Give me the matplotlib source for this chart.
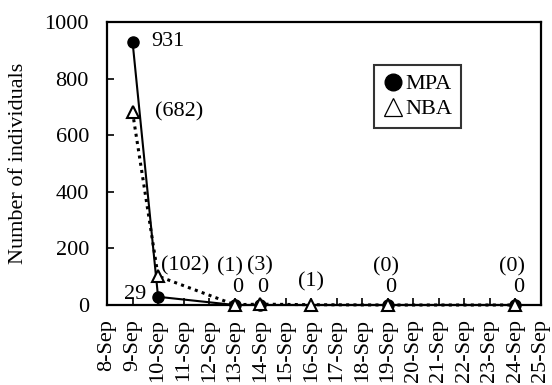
import matplotlib
matplotlib.use("Agg")
import matplotlib.pyplot as plt
from matplotlib.lines import Line2D

plt.rcParams['font.family'] = ['Liberation Serif', 'DejaVu Serif']

# ---- data ----
day_ticks = list(range(8, 26))
tick_labels = [f"{d}-Sep" for d in day_ticks]

mpa_days = [9, 10, 13, 14, 19, 24]
mpa_vals = [931, 29, 0, 0, 0, 0]
mpa_labels = ["931", "29", "0", "0", "0", "0"]

nba_days = [9, 10, 13, 14, 16, 19, 24]
nba_vals = [682, 102, 1, 3, 1, 0, 0]
nba_labels = ["(682)", "(102)", "(1)", "(3)", "(1)", "(0)", "(0)"]

# label placement (pixel offsets from the point, and alignment)
mpa_off = [(19, 0, 'left'), (-12, 2, 'right'), (3, 17, 'center'), (3, 17, 'center'), (3, 17, 'center'), (3, 17, 'center')]
nba_off = [(22, 0, 'left'), (3, 10, 'left'), (-5, 38, 'center'), (0, 38, 'center'), (0, 23, 'center'), (-2, 38, 'center'), (-3, 38, 'center')]

FS = 16
W, H = 552, 385
fig = plt.figure(figsize=(W / 100, H / 100), dpi=100)
ax = fig.add_axes([107 / W, (H - 305) / H, (541 - 107) / W, 283 / H])

ax.plot(mpa_days, mpa_vals, color='black', lw=1.5, marker='o', ms=8,
        mfc='black', mec='black', clip_on=False, zorder=3)
ax.plot(nba_days, nba_vals, color='black', lw=2.2, ls=(0, (1, 1.4)), marker='^',
        ms=8.5, mfc='white', mec='black', mew=1.5, clip_on=False, zorder=4)

px = 0.72
for d, v, lab, (dx, dy, ha) in zip(mpa_days, mpa_vals, mpa_labels, mpa_off):
    ax.annotate(lab, (d, v), xytext=(dx * px, dy * px), textcoords='offset points',
                ha=ha, va='center', fontsize=FS, annotation_clip=False)
for d, v, lab, (dx, dy, ha) in zip(nba_days, nba_vals, nba_labels, nba_off):
    ax.annotate(lab, (d, v), xytext=(dx * px, dy * px), textcoords='offset points',
                ha=ha, va='center', fontsize=FS, annotation_clip=False)

ax.set_xlim(8, 25)
ax.set_ylim(0, 1000)
ax.set_xticks(day_ticks)
ax.set_xticklabels(tick_labels, rotation=90, fontsize=FS)
ax.set_yticks([0, 200, 400, 600, 800, 1000])
ax.set_yticklabels(["0", "200", "400", "600", "800", "1000"], fontsize=FS)
ax.tick_params(axis='x', direction='in', length=5, width=1.2, pad=10)
ax.tick_params(axis='y', direction='in', length=5, width=1.2, pad=13)
for s in ax.spines.values():
    s.set_linewidth(1.6)

fig.text(18.5 / W, 1 - 163.5 / H, "Number of individuals", rotation=90,
         ha='center', va='center', fontsize=FS)

handles = [
    Line2D([], [], marker='o', color='black', ls='none', ms=12),
    Line2D([], [], marker='^', color='black', mfc='none', ls='none', ms=13, mew=0.9),
]
leg = fig.legend(handles, ["MPA", "NBA"], loc='upper left',
                 bbox_to_anchor=(374 / W, 1 - 65 / H), bbox_transform=fig.transFigure,
                 borderaxespad=0, fontsize=FS, frameon=True, fancybox=False,
                 handlelength=0.9, handletextpad=0.1, borderpad=0.4, labelspacing=0.2)
leg.get_frame().set_edgecolor('black')
leg.get_frame().set_linewidth(1.5)

fig.savefig("out.png", dpi=100)
